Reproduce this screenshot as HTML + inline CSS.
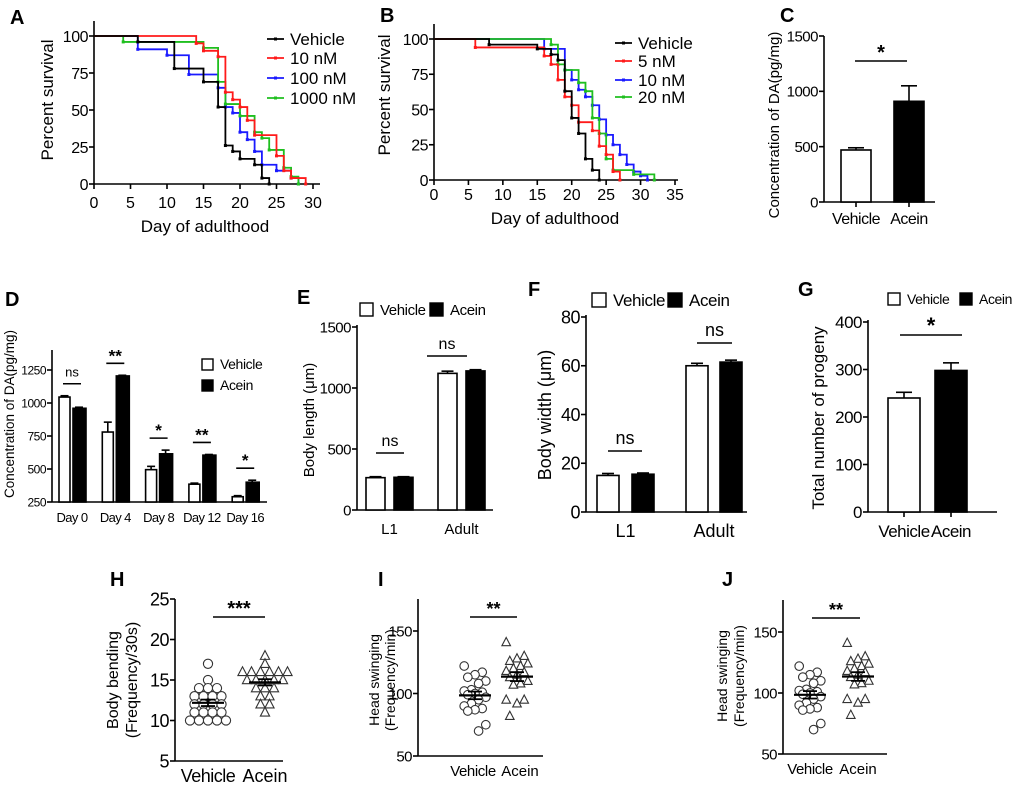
<!DOCTYPE html>
<html><head><meta charset="utf-8">
<style>
html,body{margin:0;padding:0;background:#fff;}
svg{display:block;font-family:"Liberation Sans",sans-serif;}
</style></head>
<body>
<svg id="fig" width="1020" height="786" viewBox="0 0 1020 786"></svg>
<script>
// ---------- DATA ----------
const aVehDays=[0,6,11,15,17,18,19,20,22,23,24];
const aVehVals=[100,96,78,69,52,26,22,17,13,4,0];
const a10Days=[0,14,15,17,18,19,20,21,22,25,26,27,29];
const a10Vals=[100,95,90,86,62,57,52,43,33,19,9,4,0];
const a100Days=[0,6,10,13,17,18,19,20,21,22,23,25,27,28];
const a100Vals=[100,91,87,74,65,52,48,35,30,22,13,9,4,0];
const a1000Days=[0,4,15,17,18,20,22,23,24,26,27,28];
const a1000Vals=[100,96,92,69,54,46,35,31,23,11,5,0];
const aLegend=["Vehicle","10 nM","100  nM","1000 nM"];
const bVehDays=[0,8,15,17,18,19,20,21,22,23,24];
const bVehVals=[100,96,93,89,85,63,44,33,15,7,0];
const b5Days=[0,6,16,17,18,19,20,21,23,24,25,26,27];
const b5Vals=[100,94,88,82,71,59,53,41,35,24,18,6,0];
const b10Days=[0,16,19,20,21,22,23,24,25,26,27,28,29,30,31];
const b10Vals=[100,93,78,71,64,59,53,43,32,25,18,11,6,3,0];
const b20Days=[0,17,18,19,21,22,23,24,25,26,29,32];
const b20Vals=[100,96,82,78,69,63,44,33,15,7,4,0];
const bLegend=["Vehicle","5 nM","10 nM","20 nM"];
const survTicksA=[0,5,10,15,20,25,30];
const survTicksB=[0,5,10,15,20,25,30,35];
const survY=[0,25,50,75,100];
const cCats=["Vehicle","Acein"];
const cVals=[470,910];
const cErr=[20,140];
const cTicks=[0,500,1000,1500];
const dCats=["Day 0","Day 4","Day 8","Day 12","Day 16"];
const dVeh=[1045,780,495,385,290];
const dVehErr=[10,75,25,8,8];
const dAce=[960,1205,615,605,400];
const dAceErr=[8,5,28,5,15];
const dSig=["ns","**","*","**","*"];
const dTicks=[250,500,750,1000,1250];
const eCats=["L1","Adult"];
const eVeh=[265,1120];
const eVehErr=[8,18];
const eAce=[268,1140];
const eAceErr=[5,10];
const eTicks=[0,500,1000,1500];
const fCats=["L1","Adult"];
const fVeh=[15,60];
const fVehErr=[0.8,1.0];
const fAce=[15.5,61.5];
const fAceErr=[0.5,0.8];
const fTicks=[0,20,40,60,80];
const gCats=["Vehicle","Acein"];
const gVals=[240,298];
const gErr=[12,16];
const gTicks=[0,100,200,300,400];
const hVeh=[17,15,14,14,14,13,13,13,13,12,12,12,12,11,11,11,11,10,10,10,10,10];
const hAce=[18,17,16,16,16,16,16,16,15,15,15,15,15,14,14,14,13,13,12,12,11];
const hTicks=[5,10,15,20,25];
const iVeh=[122,117,115,113,110,108,103,102,101,100,99,97,95,92,90,88,87,86,75,70];
const iAce=[141,130,128,126,124,122,120,118,117,115,113,110,108,107,95,95,92,82];
const iTicks=[50,100,150];

// ---------- HELPERS ----------
const svg=document.getElementById('fig');
const NS='http://www.w3.org/2000/svg';
function el(tag,attrs,name,parent){
  const e=document.createElementNS(NS,tag);
  for(const k in attrs) e.setAttribute(k,attrs[k]);
  
  
  (parent||svg).appendChild(e);
  return e;
}
function txt(x,y,s,size,anchor,name,extra){
  const a={x:x,y:y,'font-size':size,'text-anchor':anchor||'middle',fill:'#000'};
  if(extra) for(const k in extra) a[k]=extra[k];
  const t=el('text',a,name);
  t.textContent=s;
  return t;
}
function lin(d0,d1,r0,r1){return v=>r0+(v-d0)/(d1-d0)*(r1-r0);}
function line(x1,y1,x2,y2,name,w,col){return el('line',{x1:x1,y1:y1,x2:x2,y2:y2,stroke:col||'#000','stroke-width':w||1.6},name);}
function yAxis(x,top,bottom,ticks,sc,size,name){
  line(x,top,x,bottom,name+'-y-axis');
  ticks.forEach(t=>{
    const y=sc(t);
    line(x-5,y,x,y,name+'-y-tick');
    txt(x-6,y+size*0.36,String(t),size,'end',name+'-y-tick-label',{'letter-spacing':'-0.5'});
  });
}
function xAxis(y,left,right,name){line(left,y,right,y,name+'-x-axis');}
function letter(x,y,s){txt(x,y,s,20,'start','panel-label-'+s.toLowerCase(),{'font-weight':'bold'});}
function ylabel(x,y,s,size,name){txt(x,y,s,size,'middle',name,{transform:'rotate(-90 '+x+' '+y+')'});}
function bar(x,w,yv,y0,fill,name){
  return el('rect',{x:x,y:Math.min(yv,y0),width:w,height:Math.abs(y0-yv),fill:fill,stroke:'#000','stroke-width':1.6},name);
}
function errbar(cx,ytop,yerr,cap,name){
  line(cx,ytop,cx,yerr,name);
  line(cx-cap,yerr,cx+cap,yerr,name+'-cap');
}
function sig(x1,x2,y,label,size,name){
  line(x1,y,x2,y,name+'-line');
  txt((x1+x2)/2,y-(label==='ns'?7:2),label,label==='ns'?size:size+4,'middle',name+'-label',label==='ns'?{}:{'font-weight':'bold'});
}
function survival(days,vals,sx,sy,color,name){
  let d='M'+sx(days[0])+','+sy(vals[0]);
  for(let i=1;i<days.length;i++){
    d+=' H'+sx(days[i])+' V'+sy(vals[i]);
  }
  el('path',{d:d,fill:'none',stroke:color,'stroke-width':1.8},name+'-curve');
  for(let i=1;i<days.length;i++){
    el('rect',{x:sx(days[i])-1.5,y:sy(vals[i])-1.5,width:3,height:3,fill:color},name+'-censor-mark');
  }
}
function legendLine(x,y,color,label,name){
  line(x,y,x+17,y,name+'-swatch',1.8,color);
  el('rect',{x:x+7,y:y-1.5,width:3,height:3,fill:color},name+'-swatch-mark');
  txt(x+23,y+6,label,17,'start',name+'-label');
}
function legendBox(x,y,s,fill,label,size,name){
  el('rect',{x:x,y:y,width:s,height:s,fill:fill,stroke:'#000','stroke-width':1.4},name+'-swatch');
  txt(x+s+7,y+s-1,label,size,'start',name+'-label',{'letter-spacing':'-0.4'});
}

// ---------- PANEL A ----------
(function(){
  const sx=lin(0,30,94,313), sy=lin(0,100,184,36);
  letter(10,24,'A');
  yAxis(94,21,184,survY,sy,16,'panel-a');
  xAxis(184,94,320,'panel-a');
  survTicksA.forEach(t=>{line(sx(t),184,sx(t),189,'panel-a-x-tick');txt(sx(t),208,String(t),16,'middle','panel-a-x-tick-label');});
  ylabel(53,100,'Percent survival',17,'panel-a-y-title');
  txt(205,232,'Day of adulthood',17,'middle','panel-a-x-title');
  survival(a100Days,a100Vals,sx,sy,'#1a1aff','panel-a-100nm');
  survival(a1000Days,a1000Vals,sx,sy,'#1fbf1f','panel-a-1000nm');
  survival(a10Days,a10Vals,sx,sy,'#ff1a1a','panel-a-10nm');
  survival(aVehDays,aVehVals,sx,sy,'#000','panel-a-vehicle');
  const cols=['#000','#ff1a1a','#1a1aff','#1fbf1f'];
  const ly=[39,58,78,98];
  aLegend.forEach((s,i)=>legendLine(267,ly[i],cols[i],s,'panel-a-legend-entry'));
})();

// ---------- PANEL B ----------
(function(){
  const sx=lin(0,35,434,675), sy=lin(0,100,180,39);
  letter(380,22,'B');
  yAxis(434,24,180,survY,sy,16,'panel-b');
  xAxis(180,434,678,'panel-b');
  survTicksB.forEach(t=>{line(sx(t),180,sx(t),185,'panel-b-x-tick');txt(sx(t),200,String(t),16,'middle','panel-b-x-tick-label');});
  ylabel(390,95,'Percent survival',17,'panel-b-y-title');
  txt(555,224,'Day of adulthood',17,'middle','panel-b-x-title');
  survival(b10Days,b10Vals,sx,sy,'#1a1aff','panel-b-10nm');
  survival(b20Days,b20Vals,sx,sy,'#1fbf1f','panel-b-20nm');
  survival(b5Days,b5Vals,sx,sy,'#ff1a1a','panel-b-5nm');
  survival(bVehDays,bVehVals,sx,sy,'#000','panel-b-vehicle');
  const cols=['#000','#ff1a1a','#1a1aff','#1fbf1f'];
  const ly=[43,61,80,97];
  bLegend.forEach((s,i)=>legendLine(615,ly[i],cols[i],s,'panel-b-legend-entry'));
})();

// ---------- PANEL C ----------
(function(){
  const sy=lin(0,1500,202,36);
  letter(780,22,'C');
  yAxis(824,36,202,cTicks,sy,15,'panel-c');
  xAxis(202,824,935,'panel-c');
  const xs=[841,894], fills=['#fff','#000'];
  cVals.forEach((v,i)=>{
    errbar(xs[i]+15,sy(v),sy(v+cErr[i]),8,'panel-c-error-bar');
    bar(xs[i],30,sy(v),sy(0),fills[i],'panel-c-bar-'+cCats[i].toLowerCase());
    line(xs[i]+15,202,xs[i]+15,207,'panel-c-x-tick');
    txt(xs[i]+15,224,cCats[i],16,'middle','panel-c-x-tick-label',{'letter-spacing':'-0.5'});
  });
  sig(855,907,61,'*',16,'panel-c-significance');
  ylabel(779,125,'Concentration of DA(pg/mg)',15,'panel-c-y-title');
})();

// ---------- PANEL D ----------
(function(){
  const sy=lin(250,1250,502,370);
  letter(5,306,'D');
  yAxis(52,350,502,dTicks,sy,12,'panel-d');
  xAxis(502,52,267,'panel-d');
  dCats.forEach((c,i)=>{
    const cx=72+43.3*i;
    errbar(cx-7.5,sy(dVeh[i]),sy(dVeh[i]+dVehErr[i]),4,'panel-d-error-bar');
    bar(cx-13,11,sy(dVeh[i]),502,'#fff','panel-d-bar-vehicle');
    errbar(cx+7,sy(dAce[i]),sy(dAce[i]+dAceErr[i]),4,'panel-d-error-bar');
    bar(cx+1,13,sy(dAce[i]),502,'#000','panel-d-bar-acein');
    txt(cx,522,c,13,'middle','panel-d-x-tick-label',{'letter-spacing':'-0.6'});
    const top=Math.min(sy(dVeh[i]+dVehErr[i]),sy(dAce[i]+dAceErr[i]));
    sig(cx-9,cx+9,top-12,dSig[i],13,'panel-d-significance');
  });
  legendBox(202,359,11,'#fff','Vehicle',14,'panel-d-legend-vehicle');
  legendBox(202,380,11,'#000','Acein',14,'panel-d-legend-acein');
  ylabel(14,414,'Concentration of DA(pg/mg)',13.5,'panel-d-y-title');
})();

// ---------- PANEL E ----------
(function(){
  const sy=lin(0,1500,510,327);
  letter(297,304,'E');
  yAxis(357,325,510,eTicks,sy,15,'panel-e');
  xAxis(510,357,493,'panel-e');
  const vx=[366,438], ax=[394,466];
  eCats.forEach((c,i)=>{
    errbar(vx[i]+9.5,sy(eVeh[i]),sy(eVeh[i]+eVehErr[i]),6,'panel-e-error-bar');
    bar(vx[i],19,sy(eVeh[i]),510,'#fff','panel-e-bar-vehicle');
    errbar(ax[i]+9.5,sy(eAce[i]),sy(eAce[i]+eAceErr[i]),6,'panel-e-error-bar');
    bar(ax[i],19,sy(eAce[i]),510,'#000','panel-e-bar-acein');
    txt((vx[i]+ax[i]+19)/2,534,c,15,'middle','panel-e-x-tick-label');
  });
  sig(376,404,453,'ns',16,'panel-e-significance-l1');
  sig(427,467,356,'ns',16,'panel-e-significance-adult');
  legendBox(360,303,13,'#fff','Vehicle',15,'panel-e-legend-vehicle');
  legendBox(430,303,13,'#000','Acein',15,'panel-e-legend-acein');
  ylabel(314,420,'Body length (μm)',15,'panel-e-y-title');
})();

// ---------- PANEL F ----------
(function(){
  const sy=lin(0,80,512,317);
  letter(528,296,'F');
  yAxis(586,315,512,fTicks,sy,18,'panel-f');
  xAxis(512,586,747,'panel-f');
  const vx=[597,686], ax=[632,720];
  fCats.forEach((c,i)=>{
    errbar(vx[i]+11,sy(fVeh[i]),sy(fVeh[i]+fVehErr[i]),6,'panel-f-error-bar');
    bar(vx[i],22,sy(fVeh[i]),512,'#fff','panel-f-bar-vehicle');
    errbar(ax[i]+11,sy(fAce[i]),sy(fAce[i]+fAceErr[i]),6,'panel-f-error-bar');
    bar(ax[i],22,sy(fAce[i]),512,'#000','panel-f-bar-acein');
    txt((vx[i]+ax[i]+22)/2,537,c,18,'middle','panel-f-x-tick-label');
  });
  sig(608,642,451,'ns',18,'panel-f-significance-l1');
  sig(697,732,343,'ns',18,'panel-f-significance-adult');
  legendBox(592,293,14,'#fff','Vehicle',17,'panel-f-legend-vehicle');
  legendBox(668,293,14,'#000','Acein',17,'panel-f-legend-acein');
  ylabel(551,415,'Body width (μm)',18,'panel-f-y-title');
})();

// ---------- PANEL G ----------
(function(){
  const sy=lin(0,400,512,322);
  letter(798,296,'G');
  yAxis(868,320,512,gTicks,sy,17,'panel-g');
  xAxis(512,868,997,'panel-g');
  const xs=[888,935], fills=['#fff','#000'];
  gVals.forEach((v,i)=>{
    errbar(xs[i]+16,sy(v),sy(v+gErr[i]),8,'panel-g-error-bar');
    bar(xs[i],32,sy(v),512,fills[i],'panel-g-bar-'+gCats[i].toLowerCase());
    line(xs[i]+16,512,xs[i]+16,517,'panel-g-x-tick');
    txt(xs[i]+16,537,gCats[i],17,'middle','panel-g-x-tick-label',{'letter-spacing':'-0.5'});
  });
  sig(900,962,335,'*',18,'panel-g-significance');
  legendBox(888,293,12,'#fff','Vehicle',14,'panel-g-legend-vehicle');
  legendBox(960,293,12,'#000','Acein',14,'panel-g-legend-acein');
  ylabel(824,418,'Total number of progeny',17,'panel-g-y-title');
})();

// ---------- SCATTER PANELS ----------
function scatterGroup(vals,cx,sy,shape,name,spread,r){
  const counts={}, seen={};
  vals.forEach(v=>{counts[v]=(counts[v]||0)+1;});
  vals.forEach((v,i)=>{
    let off;
    if(spread==='bin'){
      const k=seen[v]||0; seen[v]=k+1;
      off=(k-(counts[v]-1)/2)*9;
    } else {
      off=((i*5)%7-3)*3.6;
    }
    const x=cx+off, y=sy(v);
    if(shape==='circle') el('circle',{cx:x,cy:y,r:r,fill:'#fff',stroke:'#333','stroke-width':1.1},name+'-point');
    else el('path',{d:'M'+x+','+(y-r-0.5)+' L'+(x+r)+','+(y+r*0.8)+' L'+(x-r)+','+(y+r*0.8)+' Z',fill:'#fff',stroke:'#333','stroke-width':1.1},name+'-point');
  });
  const n=vals.length, mean=vals.reduce((a,b)=>a+b,0)/n;
  const sd=Math.sqrt(vals.reduce((a,b)=>a+(b-mean)*(b-mean),0)/(n-1)), sem=sd/Math.sqrt(n);
  line(cx-16,sy(mean),cx+16,sy(mean),name+'-mean-line',2.2);
  line(cx,sy(mean-sem),cx,sy(mean+sem),name+'-sem-line',1.8);
  line(cx-7,sy(mean-sem),cx+7,sy(mean-sem),name+'-sem-cap',1.8);
  line(cx-7,sy(mean+sem),cx+7,sy(mean+sem),name+'-sem-cap',1.8);
}
// H
(function(){
  const sy=lin(5,25,761,599);
  letter(110,586,'H');
  yAxis(175,599,761,hTicks,sy,18,'panel-h');
  xAxis(761,175,283,'panel-h');
  scatterGroup(hVeh,208,sy,'circle','panel-h-vehicle','bin',4.6);
  scatterGroup(hAce,265,sy,'triangle','panel-h-acein','bin',4.6);
  txt(208,782,'Vehicle',18,'middle','panel-h-x-tick-label',{'letter-spacing':'-0.5'});
  txt(265,782,'Acein',18,'middle','panel-h-x-tick-label');
  sig(213,265,617,'***',16,'panel-h-significance');
  ylabel(118,680,'Body bending',16,'panel-h-y-title');
  ylabel(137,680,'(Frequency/30s)',16,'panel-h-y-title-units');
})();
// I
(function(){
  const sy=lin(50,150,756,631);
  letter(378,586,'I');
  yAxis(418,599,756,iTicks,sy,15,'panel-i');
  xAxis(756,418,543,'panel-i');
  scatterGroup(iVeh,475,sy,'circle','panel-i-vehicle','jit',4.3);
  scatterGroup(iAce,517,sy,'triangle','panel-i-acein','jit',4.3);
  txt(473,776,'Vehicle',15,'middle','panel-i-x-tick-label',{'letter-spacing':'-0.4'});
  txt(520,776,'Acein',15,'middle','panel-i-x-tick-label');
  sig(470,517,617,'**',14,'panel-i-significance');
  ylabel(379,680,'Head swinging',14,'panel-i-y-title');
  ylabel(395,680,'(Frequency/min)',14,'panel-i-y-title-units');
})();
// J
(function(){
  const sy=lin(50,150,754,632);
  letter(722,586,'J');
  yAxis(783,600,754,iTicks,sy,15,'panel-j');
  xAxis(754,783,887,'panel-j');
  scatterGroup(iVeh,810,sy,'circle','panel-j-vehicle','jit',4.3);
  scatterGroup(iAce,858,sy,'triangle','panel-j-acein','jit',4.3);
  txt(810,774,'Vehicle',15,'middle','panel-j-x-tick-label',{'letter-spacing':'-0.4'});
  txt(858,774,'Acein',15,'middle','panel-j-x-tick-label');
  sig(812,860,618,'**',14,'panel-j-significance');
  ylabel(727,676,'Head swinging',14,'panel-j-y-title');
  ylabel(744,676,'(Frequency/min)',14,'panel-j-y-title-units');
})();
</script>
</body></html>
